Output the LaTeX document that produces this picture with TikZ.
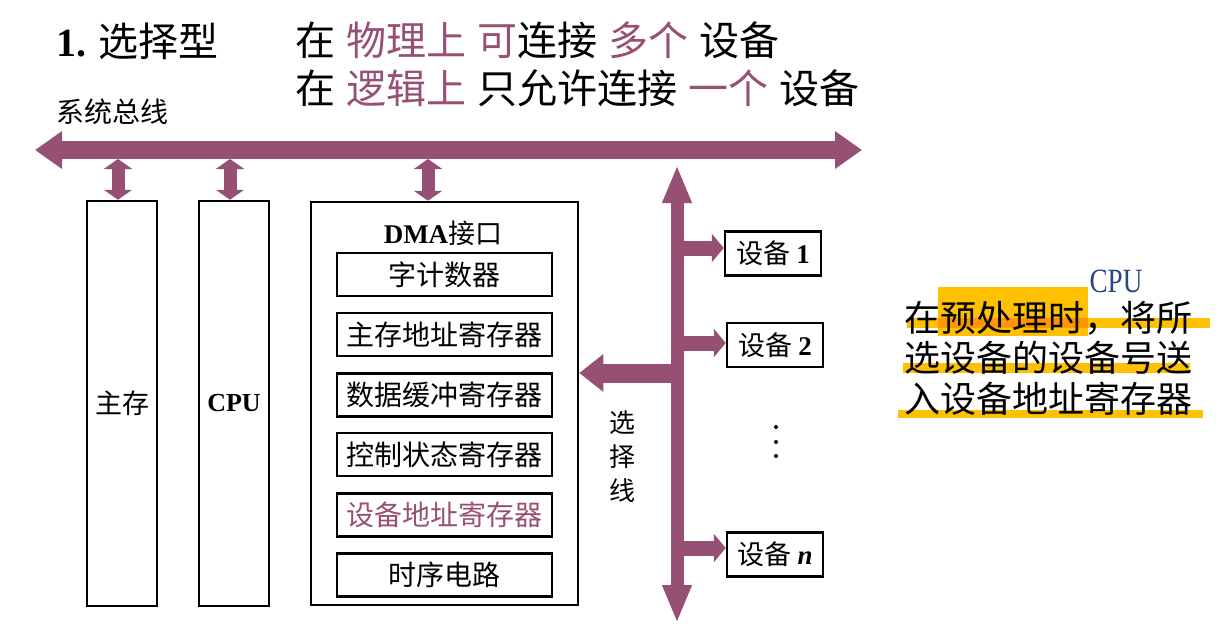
\documentclass[tikz,border=0pt]{standalone}
\usepackage{fontspec}
\setmainfont{Noto Sans CJK SC}
\newfontfamily\tnr{Liberation Serif}
\usetikzlibrary{arrows.meta}
\definecolor{buscol}{RGB}{150,80,115}
\definecolor{marker}{RGB}{255,192,0}
\definecolor{markdark}{RGB}{255,150,0}
\definecolor{cpublue}{RGB}{40,70,130}
\newcommand{\fs}[1]{\fontsize{#1}{#1}\selectfont}
\newcommand{\gp}{\hspace{11pt}}

\begin{document}
\begin{tikzpicture}[x=1pt,y=-1pt,
  unit/.style={draw,line width=2.5pt,minimum width=70pt,minimum height=405pt,inner sep=0pt,font=\fs{27}},
  reg/.style={draw,line width=2.5pt,minimum width=215pt,minimum height=43pt,inner sep=0pt,font=\fs{28}},
  dev/.style={draw,line width=2.5pt,minimum width=96pt,minimum height=44pt,inner sep=0pt,font=\fs{27}},
  sysbus/.style={draw=buscol,line width=18pt,{Triangle[length=27pt,width=36pt]}-{Triangle[length=27pt,width=36pt]}},
  link/.style={draw=buscol,line width=13pt,{Triangle[length=10pt,width=28pt]}-{Triangle[length=10pt,width=28pt]}},
  selline/.style={draw=buscol,line width=13pt,{Triangle[length=38pt,width=27pt]}-{Triangle[length=38pt,width=27pt]}},
  tobox/.style={draw=buscol,line width=19pt,-{Triangle[length=24pt,width=36pt]}},
  branch/.style={draw=buscol,line width=15pt,-{Triangle[length=12pt,width=28pt]}}]
\useasboundingbox (0,0) rectangle (1228,634);

\node[anchor=west,inner sep=0pt,font=\fs{40}] (title) at (56,41) {{\tnr\bfseries 1.} 选择型};
\node[anchor=west,inner sep=0pt,font=\fs{40}] (line1) at (295,40.5) {在\gp\textcolor{buscol}{物理上\gp 可}连接\gp\textcolor{buscol}{多个}\gp 设备};
\node[anchor=west,inner sep=0pt,font=\fs{40}] (line2) at (295,88) {在\gp\textcolor{buscol}{逻辑上}\gp 只允许连接\gp\textcolor{buscol}{一个}\gp 设备};
\node[anchor=west,inner sep=0pt,font=\fs{28}] (busname) at (56,112) {系统总线};

\coordinate (busL) at (35,150);
\coordinate (busR) at (862,150);
\draw[sysbus] (busL) -- (busR);

\node[unit] (mem) at (122,403.5) {主存};
\node[unit,font=\fs{26}] (cpu) at (234,403.5) {{\tnr\bfseries CPU}};
\node[unit,minimum width=267pt,minimum height=403pt] (dma) at (444.5,403.5) {};
\node[font=\fs{27}] (dmaname) at (443,233) {{\tnr\bfseries DMA}接口};
\node[reg] (wc) at (444.5,274.5) {字计数器};
\node[reg] (mar) at (444.5,334.5) {主存地址寄存器};
\node[reg] (dbr) at (444.5,395) {数据缓冲寄存器};
\node[reg] (csr) at (444.5,454.5) {控制状态寄存器};
\node[reg,text=buscol] (dar) at (444.5,515) {设备地址寄存器};
\node[reg] (tim) at (444.5,575) {时序电路};

\coordinate (tapA) at (118,159);
\coordinate (tapB) at (230,159);
\coordinate (tapC) at (428,159);
\draw[link] (tapA) -- (tapA |- mem.north);
\draw[link] (tapB) -- (tapB |- cpu.north);
\draw[link] (tapC) -- (tapC |- dma.north);

\node[dev] (dev1) at (773,253.5) {设备 {\tnr\bfseries 1}};
\node[dev] (dev2) at (775,345) {设备 {\tnr\bfseries 2}};
\node[dev] (devn) at (775,554.5) {设备 {\tnr\bfseries\itshape n}};
\foreach \y in {427,442,456}
  \fill (776,\y) circle (2pt);

\coordinate (selTop) at (677,165);
\coordinate (selBot) at (677,623);
\draw[selline] (selTop) -- (selBot);
\coordinate (s0) at (677,373);
\coordinate (s1) at (677,248);
\coordinate (s2) at (677,343);
\coordinate (sn) at (677,548);
\draw[tobox] (s0) -- (s0 -| dma.east);
\draw[branch] (s1) -- (s1 -| dev1.west);
\draw[branch] (s2) -- (s2 -| dev2.west);
\draw[branch] (sn) -- (sn -| devn.west);
\node[font=\fontsize{26}{34}\selectfont,align=center] (selname) at (622,457) {选\\择\\线};

\fill[marker] (938,287) rectangle (1088,336);
\fill[marker] (907,318) rectangle (1210,328);
\fill[markdark] (938,318) rectangle (1088,328);
\fill[marker] (903,363) rectangle (1190,373);
\fill[marker] (898,410) rectangle (1203,418);
\node[anchor=west,align=left,inner sep=0pt,font=\fontsize{36}{40.5}\selectfont] (note) at (904,358) {在预处理时，将所\\选设备的设备号送\\入设备地址寄存器};
\node[text=cpublue,font=\fs{34}] (cpuhint) at (1116,281) {\tnr\scalebox{0.8}[1]{CPU}};
\end{tikzpicture}
\end{document}
